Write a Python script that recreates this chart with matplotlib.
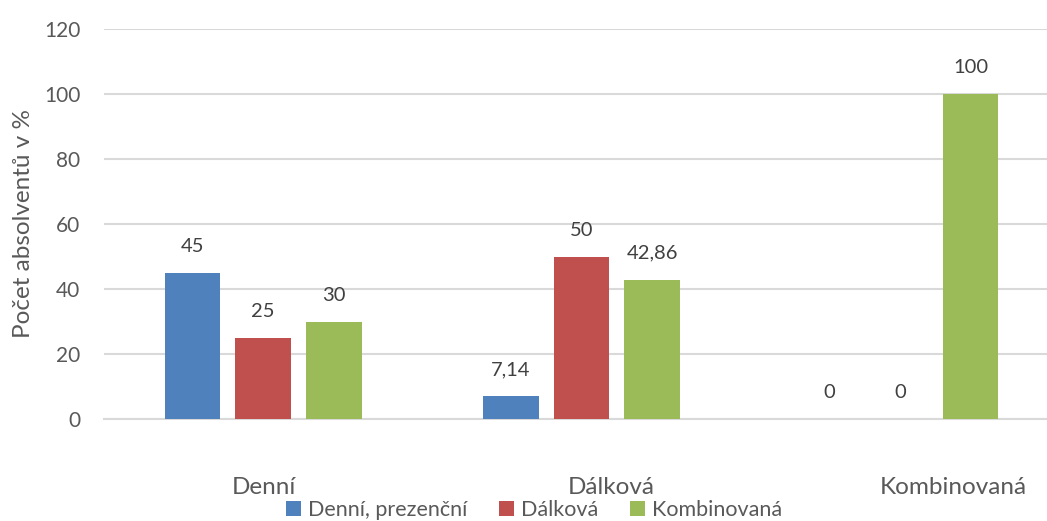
import matplotlib
matplotlib.use("Agg")
import matplotlib.pyplot as plt
import matplotlib.transforms as mtransforms
import numpy as np

plt.rcParams['font.family'] = ['Lato', 'DejaVu Sans']

categories = ['Denní', 'Dálková', 'Kombinovaná']
series_names = ['Denní, prezenční', 'Dálková', 'Kombinovaná']
denni = [45, 25, 30]
dalkova = [7.14, 50, 42.86]
kombinovana = [0, 0, 100]
values = [denni, dalkova, kombinovana]
labels = [['45', '25', '30'], ['7,14', '50', '42,86'], ['0', '0', '100']]
colors = ['#4F81BD', '#C0504D', '#9BBB59']
text_color = '#595959'
grid_color = '#D9D9D9'

fig = plt.figure(figsize=(10.47, 5.21), dpi=100)
ax = fig.add_axes([104 / 1047, 102 / 521, 955 / 1047, 390 / 521])

x = np.arange(len(categories))
step = 0.222
width = 0.174
for s in range(3):
    vals = [values[c][s] for c in range(3)]
    bars = ax.bar(x + (s - 1) * step, vals, width, color=colors[s], label=series_names[s], zorder=3)
    for c, b in enumerate(bars):
        ax.annotate(labels[c][s], (b.get_x() + b.get_width() / 2, b.get_height()),
                    xytext=(0, 19), textcoords='offset points', ha='center', va='center',
                    fontsize=14.5, color='#404040')

ax.set_xlim(-0.5, 2.5)
ax.set_ylim(0, 120)
ax.set_yticks(range(0, 121, 20))
ax.set_xticks(x)
ax.set_xticklabels(categories)
ax.yaxis.grid(True, color=grid_color, linewidth=1.5, zorder=0)
for sp in ['top', 'right', 'left']:
    ax.spines[sp].set_visible(False)
ax.spines['bottom'].set_color(grid_color)
ax.spines['bottom'].set_linewidth(1.5)
ax.tick_params(axis='y', length=0, pad=17, labelsize=15, labelcolor=text_color)
ax.tick_params(axis='x', length=0, pad=42, labelsize=17.5, labelcolor=text_color)

# category labels sit slightly right of the group centre in the original
shifts = [1, 30, 53]
for lab, dx in zip(ax.get_xticklabels(), shifts):
    lab.set_transform(lab.get_transform() + mtransforms.ScaledTranslation(dx / 100, 0, fig.dpi_scale_trans))

ax.set_ylabel('Počet absolventů v %', fontsize=17.5, color=text_color)
ax.yaxis.set_label_coords(-70 / 955, 0.5)

fig.legend(loc='center', bbox_to_anchor=(534 / 1047, 11 / 521), ncol=3, frameon=False,
           fontsize=15.5, handlelength=0.7, handleheight=0.7, handletextpad=0.3,
           columnspacing=1.5, labelcolor=text_color)

fig.savefig('out.png', dpi=100)
